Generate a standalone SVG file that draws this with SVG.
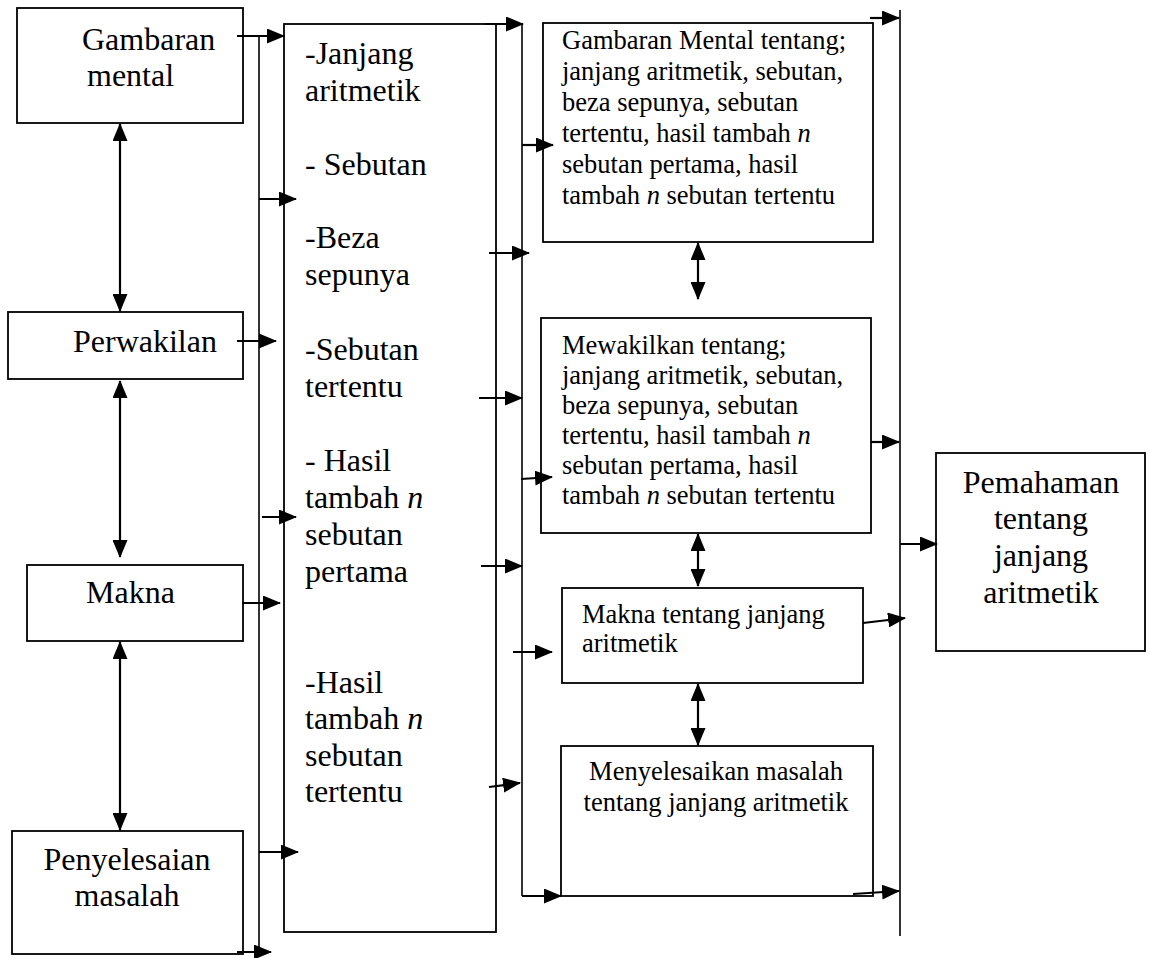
<svg xmlns="http://www.w3.org/2000/svg" width="1150" height="958" viewBox="0 0 1150 958">
<style>
.box{fill:#fff;stroke:#000;stroke-width:1.8}
.t{font-family:"Liberation Serif","Times New Roman",serif;font-size:32px;fill:#000}
.s{font-family:"Liberation Serif","Times New Roman",serif;font-size:26.5px;fill:#000}
.c{text-anchor:middle}
.i{font-style:italic}
.ln{fill:none;stroke:#000;stroke-width:2.2}
.bus{fill:none;stroke:#000;stroke-width:1.6}
.a{marker-end:url(#ah)}
.d{marker-start:url(#ah);marker-end:url(#ah)}
</style>
<defs>
<marker id="ah" markerUnits="userSpaceOnUse" viewBox="0 0 18 15" markerWidth="18" markerHeight="15" refX="17" refY="7.5" orient="auto-start-reverse">
<path d="M0,0 L18,7.5 L0,15 z" fill="#000"/>
</marker>
</defs>
<rect width="1150" height="958" fill="#fff"/>

<g id="gambaran-mental">
<rect class="box" x="17" y="8" width="226" height="115"/>
<text class="t" x="82" y="50">Gambaran</text>
<text class="t" x="87" y="86">mental</text>
</g>
<g id="perwakilan">
<rect class="box" x="8" y="312" width="235" height="67"/>
<text class="t" x="73" y="352">Perwakilan</text>
</g>
<g id="makna">
<rect class="box" x="27" y="565" width="216" height="76"/>
<text class="t" x="86" y="603">Makna</text>
</g>
<g id="penyelesaian-masalah">
<rect class="box" x="12" y="831" width="231" height="123"/>
<text class="t c" x="127" y="870">Penyelesaian</text>
<text class="t c" x="127" y="906">masalah</text>
</g>

<g id="konsep">
<rect class="box" x="284" y="24" width="212" height="908"/>
<text class="t" x="305" y="64">-Janjang</text>
<text class="t" x="305" y="101">aritmetik</text>
<text class="t" x="305" y="175">- Sebutan</text>
<text class="t" x="305" y="248">-Beza</text>
<text class="t" x="305" y="285">sepunya</text>
<text class="t" x="305" y="360">-Sebutan</text>
<text class="t" x="305" y="397">tertentu</text>
<text class="t" x="305" y="471">- Hasil</text>
<text class="t" x="305" y="508">tambah <tspan class="i">n</tspan></text>
<text class="t" x="305" y="545">sebutan</text>
<text class="t" x="305" y="582">pertama</text>
<text class="t" x="305" y="693">-Hasil</text>
<text class="t" x="305" y="729">tambah <tspan class="i">n</tspan></text>
<text class="t" x="305" y="766">sebutan</text>
<text class="t" x="305" y="802">tertentu</text>
</g>

<g id="gambaran-mental-tentang">
<rect class="box" x="543" y="23" width="330" height="219"/>
<text class="s" x="562" y="49">Gambaran Mental tentang;</text>
<text class="s" x="562" y="80">janjang aritmetik, sebutan,</text>
<text class="s" x="562" y="111">beza sepunya, sebutan</text>
<text class="s" x="562" y="142">tertentu, hasil tambah <tspan class="i">n</tspan></text>
<text class="s" x="562" y="173">sebutan pertama, hasil</text>
<text class="s" x="562" y="204">tambah <tspan class="i">n</tspan> sebutan tertentu</text>
</g>
<g id="mewakilkan-tentang">
<rect class="box" x="541" y="318" width="330" height="215"/>
<text class="s" x="562" y="354">Mewakilkan tentang;</text>
<text class="s" x="562" y="384">janjang aritmetik, sebutan,</text>
<text class="s" x="562" y="414">beza sepunya, sebutan</text>
<text class="s" x="562" y="444">tertentu, hasil tambah <tspan class="i">n</tspan></text>
<text class="s" x="562" y="474">sebutan pertama, hasil</text>
<text class="s" x="562" y="504">tambah <tspan class="i">n</tspan> sebutan tertentu</text>
</g>
<g id="makna-tentang">
<rect class="box" x="562" y="588" width="301" height="95"/>
<text class="s" x="582" y="623">Makna tentang janjang</text>
<text class="s" x="582" y="652">aritmetik</text>
</g>
<g id="menyelesaikan-masalah">
<rect class="box" x="561" y="746" width="312" height="150"/>
<text class="s c" x="716" y="780">Menyelesaikan masalah</text>
<text class="s c" x="716" y="811">tentang janjang aritmetik</text>
</g>
<g id="pemahaman">
<rect class="box" x="936" y="453" width="209" height="198"/>
<text class="t c" x="1041" y="493">Pemahaman</text>
<text class="t c" x="1041" y="529">tentang</text>
<text class="t c" x="1041" y="566">janjang</text>
<text class="t c" x="1041" y="603">aritmetik</text>
</g>

<g id="connectors">
<line class="bus" x1="259" y1="36" x2="259" y2="954"/>
<line class="ln a" x1="237" y1="36" x2="284" y2="36"/>
<line class="ln a" x1="259" y1="199" x2="296" y2="199"/>
<line class="ln a" x1="237" y1="341" x2="276" y2="341"/>
<line class="ln a" x1="262" y1="517" x2="296" y2="517"/>
<line class="ln a" x1="242" y1="603" x2="280" y2="603"/>
<line class="ln a" x1="259" y1="852" x2="298" y2="852"/>
<line class="ln a" x1="237" y1="952" x2="271" y2="952"/>
<line class="ln d" x1="120" y1="124" x2="120" y2="311"/>
<line class="ln d" x1="120" y1="381" x2="120" y2="557"/>
<line class="ln d" x1="120" y1="642" x2="120" y2="830"/>

<path class="bus" d="M522,24 V896"/>
<line class="ln a" x1="522" y1="896" x2="561" y2="896"/>
<line class="ln a" x1="485" y1="24" x2="523" y2="24"/>
<line class="ln a" x1="489" y1="253" x2="529" y2="253"/>
<line class="ln a" x1="479" y1="398" x2="522" y2="398"/>
<line class="ln a" x1="481" y1="566" x2="522" y2="566"/>
<line class="ln a" x1="489" y1="787" x2="520" y2="783"/>
<line class="ln a" x1="522" y1="145" x2="553" y2="145"/>
<line class="ln a" x1="521" y1="479" x2="552" y2="477"/>
<line class="ln a" x1="513" y1="652" x2="552" y2="652"/>

<line class="ln d" x1="698" y1="243" x2="698" y2="299"/>
<line class="ln d" x1="698" y1="534" x2="698" y2="586"/>
<line class="ln d" x1="698" y1="684" x2="698" y2="745"/>

<line class="bus" x1="900" y1="10" x2="900" y2="936"/>
<line class="ln a" x1="870" y1="18" x2="899" y2="18"/>
<line class="ln a" x1="871" y1="442" x2="899" y2="442"/>
<line class="ln a" x1="863" y1="623" x2="905" y2="618"/>
<line class="ln a" x1="853" y1="894" x2="899" y2="891"/>
<line class="ln a" x1="900" y1="544" x2="937" y2="544"/>
</g>
</svg>
